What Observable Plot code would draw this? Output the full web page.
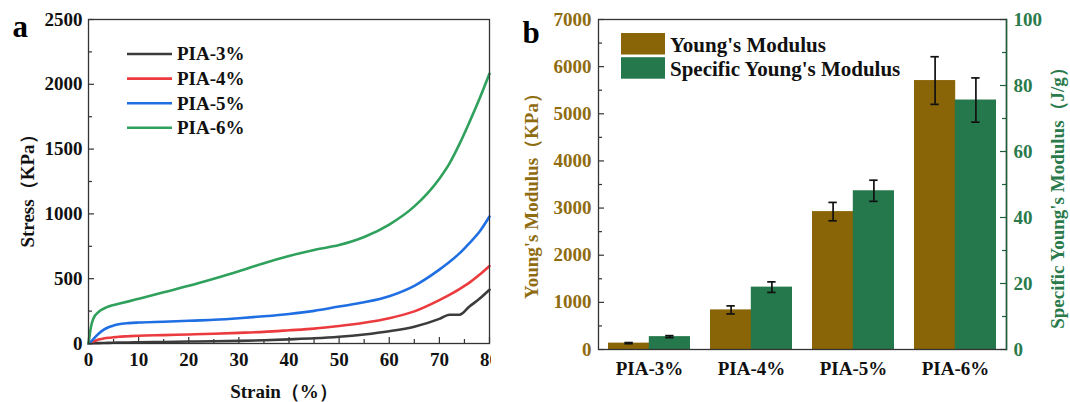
<!DOCTYPE html>
<html><head><meta charset="utf-8">
<script src="https://cdn.jsdelivr.net/npm/d3@7"></script>
<script src="https://cdn.jsdelivr.net/npm/@observablehq/plot@0.6"></script>
<style>
body{margin:0;background:#fff;}
#wrap{position:relative;width:1070px;height:402px;overflow:hidden;background:#fff;}
#pa{position:absolute;left:0;top:0;}
#pb{position:absolute;left:495px;top:0;}
#leg{position:absolute;left:0;top:0;pointer-events:none;}
</style></head><body>
<div id="wrap"><div id="pa"></div><div id="pb"></div><svg id="leg" width="1070" height="402"></svg></div>
<script>
// ---------- Panel a data ----------
const strain = [0,0.5,1,2,3,4,5,6,8,10,15,20,25,30,35,40,45,50,55,60,65,70,72,74,76,78,80];
const seriesNames = ["PIA-3%","PIA-4%","PIA-5%","PIA-6%"];
const pia3 = [0,1,2,3,4,5,6,7,8,10,12,15,17,20,25,32,40,52,70,95,130,190,222,222,285,345,415];
const pia4 = [0,8,15,30,38,44,48,52,56,60,65,70,75,82,90,102,115,135,160,195,248,335,375,420,470,530,598];
const pia5 = [0,15,35,75,105,125,138,148,157,162,168,175,183,195,210,228,252,285,318,365,445,570,628,695,775,862,980];
const pia6 = [0,130,195,243,268,285,297,306,325,345,395,445,500,558,620,675,722,760,822,918,1058,1272,1388,1538,1708,1888,2082];
const lineColors = ["#3c3c3c","#ec3b3e","#1f6fe3","#2fa15c"];
const xTicksA = [0,10,20,30,40,50,60,70,80];
const xMinorA = [5,15,25,35,45,55,65,75];
const yTicksA = [0,500,1000,1500,2000,2500];
const yMinorA = [250,750,1250,1750,2250];

// ---------- Panel b data ----------
const cats = ["PIA-3%","PIA-4%","PIA-5%","PIA-6%"];
const youngs = [135,840,2925,5705];
const youngsErr = [12,85,195,505];
const specific = [3.9,18.9,48.1,75.6];
const specificErr = [0.3,1.6,3.2,6.7];
const yTicksB = [0,1000,2000,3000,4000,5000,6000,7000];
const yMinorB = [500,1500,2500,3500,4500,5500,6500];
const rTicksB = [0,20,40,60,80,100];
const rMinorB = [10,30,50,70,90];
const barNames = ["Young's Modulus","Specific Young's Modulus"];

const FONT = '"Liberation Serif","Times New Roman",serif';
const brown = "#8a6508", green = "#24784c";
const brownText = "#8f6c10", greenText = "#2a7a4b";
const axisCol = "#333";
const plain = d => String(d);

// ---------- Panel a ----------
const WA = 491, HA = 402, mlA = 88, mrA = 2, mtA = 19, mbA = 59;
const pwA = WA - mlA - mrA, phA = HA - mtA - mbA;
const rowsA = [];
const vals = [pia3, pia4, pia5, pia6];
seriesNames.forEach((n, i) => strain.forEach((s, j) => rowsA.push({series: n, strain: s, stress: vals[i][j]})));

const chartA = Plot.plot({
  width: WA, height: HA, marginLeft: mlA, marginRight: mrA, marginTop: mtA, marginBottom: mbA,
  style: {fontFamily: FONT, fontWeight: "bold", fontSize: "19px", overflow: "hidden", background: "white", color: "#111"},
  x: {domain: [0, 80]},
  y: {domain: [0, 2500]},
  color: {domain: seriesNames, range: lineColors},
  marks: [
    Plot.tickX(xMinorA, {x: d => d, insetTop: phA - 4, stroke: axisCol, strokeWidth: 1.2}),
    Plot.tickX(xTicksA, {x: d => d, insetTop: phA - 6, stroke: axisCol, strokeWidth: 1.2}),
    Plot.tickY(yMinorA, {y: d => d, insetRight: pwA - 4, stroke: axisCol, strokeWidth: 1.2}),
    Plot.tickY(yTicksA, {y: d => d, insetRight: pwA - 6, stroke: axisCol, strokeWidth: 1.2}),
    Plot.line(rowsA, {x: "strain", y: "stress", z: "series", stroke: "series", strokeWidth: 2.6, curve: "monotone-x"}),
    Plot.frame({stroke: axisCol, strokeWidth: 1.3}),
    Plot.axisX(xTicksA, {tickSize: 0, tickPadding: 9, tickFormat: plain, label: null, fontSize: 19, color: "#111"}),
    Plot.axisY(yTicksA, {tickSize: 0, tickPadding: 6, tickFormat: plain, label: null, fontSize: 19, color: "#111"}),
    Plot.text(["Strain（%）"], {text: d => d, frameAnchor: "bottom", textAnchor: "middle", dx: -5, dy: 48, lineAnchor: "middle", fontSize: 19, fill: "#111"}),
    Plot.text(["Stress（KPa）"], {text: d => d, frameAnchor: "left", textAnchor: "middle", dx: -61, dy: 5, rotate: -90, lineAnchor: "middle", fontSize: 19, fill: "#111"}),
    Plot.text(["a"], {text: d => d, frameAnchor: "top-left", textAnchor: "start", lineAnchor: "middle", dx: -76, dy: 8, fontSize: 31, fill: "#000"})
  ]
});
document.getElementById("pa").appendChild(chartA);

// ---------- Panel b ----------
const K = 70; // 100 on right axis == 7000 on left axis
const WB = 575, HB = 402, mlB = 103, mrB = 64, mtB = 19, mbB = 53;
const pwB = WB - mlB - mrB, phB = HB - mtB - mbB;
const bw = pwB / (cats.length - 0.2 + 0.2) * 0.8;
const half = bw / 2;
const rowsB = cats.map((c, i) => ({cat: c, ym: youngs[i], ymE: youngsErr[i], sy: specific[i] * K, syE: specificErr[i] * K}));
const capIn = bw / 2 - 4;

const chartB = Plot.plot({
  width: WB, height: HB, marginLeft: mlB, marginRight: mrB, marginTop: mtB, marginBottom: mbB,
  style: {fontFamily: FONT, fontWeight: "bold", fontSize: "19px", overflow: "hidden", background: "white", color: "#111"},
  x: {domain: cats, paddingInner: 0.2, paddingOuter: 0.1},
  y: {domain: [0, 7000]},
  marks: [
    Plot.barY(rowsB, {x: "cat", y: "ym", fill: brown, insetRight: half}),
    Plot.barY(rowsB, {x: "cat", y: "sy", fill: green, insetLeft: half}),
    Plot.ruleX(rowsB, {x: "cat", y1: d => d.ym - d.ymE, y2: d => d.ym + d.ymE, dx: -half / 2, stroke: "#111", strokeWidth: 1.7}),
    Plot.tickY(rowsB, {x: "cat", y: d => d.ym + d.ymE, dx: -half / 2, insetLeft: capIn, insetRight: capIn, stroke: "#111", strokeWidth: 1.7}),
    Plot.tickY(rowsB, {x: "cat", y: d => d.ym - d.ymE, dx: -half / 2, insetLeft: capIn, insetRight: capIn, stroke: "#111", strokeWidth: 1.7}),
    Plot.ruleX(rowsB, {x: "cat", y1: d => d.sy - d.syE, y2: d => d.sy + d.syE, dx: half / 2, stroke: "#111", strokeWidth: 1.7}),
    Plot.tickY(rowsB, {x: "cat", y: d => d.sy + d.syE, dx: half / 2, insetLeft: capIn, insetRight: capIn, stroke: "#111", strokeWidth: 1.7}),
    Plot.tickY(rowsB, {x: "cat", y: d => d.sy - d.syE, dx: half / 2, insetLeft: capIn, insetRight: capIn, stroke: "#111", strokeWidth: 1.7}),
    Plot.tickY(yMinorB, {y: d => d, insetRight: pwB - 4, stroke: axisCol, strokeWidth: 1.2}),
    Plot.tickY(yTicksB, {y: d => d, insetRight: pwB - 6, stroke: axisCol, strokeWidth: 1.2}),
    Plot.tickY(rMinorB.map(v => v * K), {y: d => d, insetLeft: pwB - 4, stroke: "#1f5e3b", strokeWidth: 1.2}),
    Plot.tickY(rTicksB.map(v => v * K), {y: d => d, insetLeft: pwB - 6, stroke: "#1f5e3b", strokeWidth: 1.2}),
    Plot.frame({stroke: axisCol, strokeWidth: 1.3}),
    Plot.frame({anchor: "right", stroke: "#1f5e3b", strokeWidth: 1.5}),
    Plot.axisX({tickSize: 0, tickPadding: 12, label: null, fontSize: 19, color: "#111"}),
    Plot.axisY(yTicksB, {tickSize: 0, tickPadding: 7, tickFormat: plain, label: null, fontSize: 19, color: brownText}),
    Plot.axisY(rTicksB.map(v => v * K), {anchor: "right", tickSize: 0, tickPadding: 7, tickFormat: d => String(d / K), label: null, fontSize: 19, color: greenText}),
    Plot.text(["Young's Modulus（KPa）"], {text: d => d, frameAnchor: "left", textAnchor: "middle", dx: -67, dy: 7, rotate: -90, lineAnchor: "middle", fontSize: 19, fill: brownText}),
    Plot.text(["Specific Young's Modulus（J/g）"], {text: d => d, frameAnchor: "right", textAnchor: "middle", dx: 51, dy: 9, rotate: -90, lineAnchor: "middle", fontSize: 19, fill: greenText}),
    Plot.text(["b"], {text: d => d, frameAnchor: "top-left", textAnchor: "start", lineAnchor: "middle", dx: -76, dy: 14, fontSize: 31, fill: "#000"})
  ]
});
document.getElementById("pb").appendChild(chartB);

// ---------- Legends ----------
const leg = d3.select("#leg").style("font-family", FONT).style("font-weight", "bold");
const legA = leg.append("g").attr("transform", "translate(127,54)");
seriesNames.forEach((n, i) => {
  const g = legA.append("g").attr("transform", `translate(0,${i * 24.6})`);
  g.append("line").attr("x1", 0).attr("x2", 45).attr("y1", 0).attr("y2", 0).attr("stroke", lineColors[i]).attr("stroke-width", 2.6);
  g.append("text").attr("x", 50).attr("y", 0).attr("dy", "0.34em").attr("font-size", 19).attr("fill", "#111").text(n);
});
const legB = leg.append("g").attr("transform", "translate(621,33)");
[brown, green].forEach((c, i) => {
  const g = legB.append("g").attr("transform", `translate(0,${i * 24.2})`);
  g.append("rect").attr("width", 44).attr("height", 21.5).attr("fill", c);
  g.append("text").attr("x", 49).attr("y", 11).attr("dy", "0.36em").attr("font-size", 21).attr("fill", "#111").text(barNames[i]);
});
</script>
</body></html>
